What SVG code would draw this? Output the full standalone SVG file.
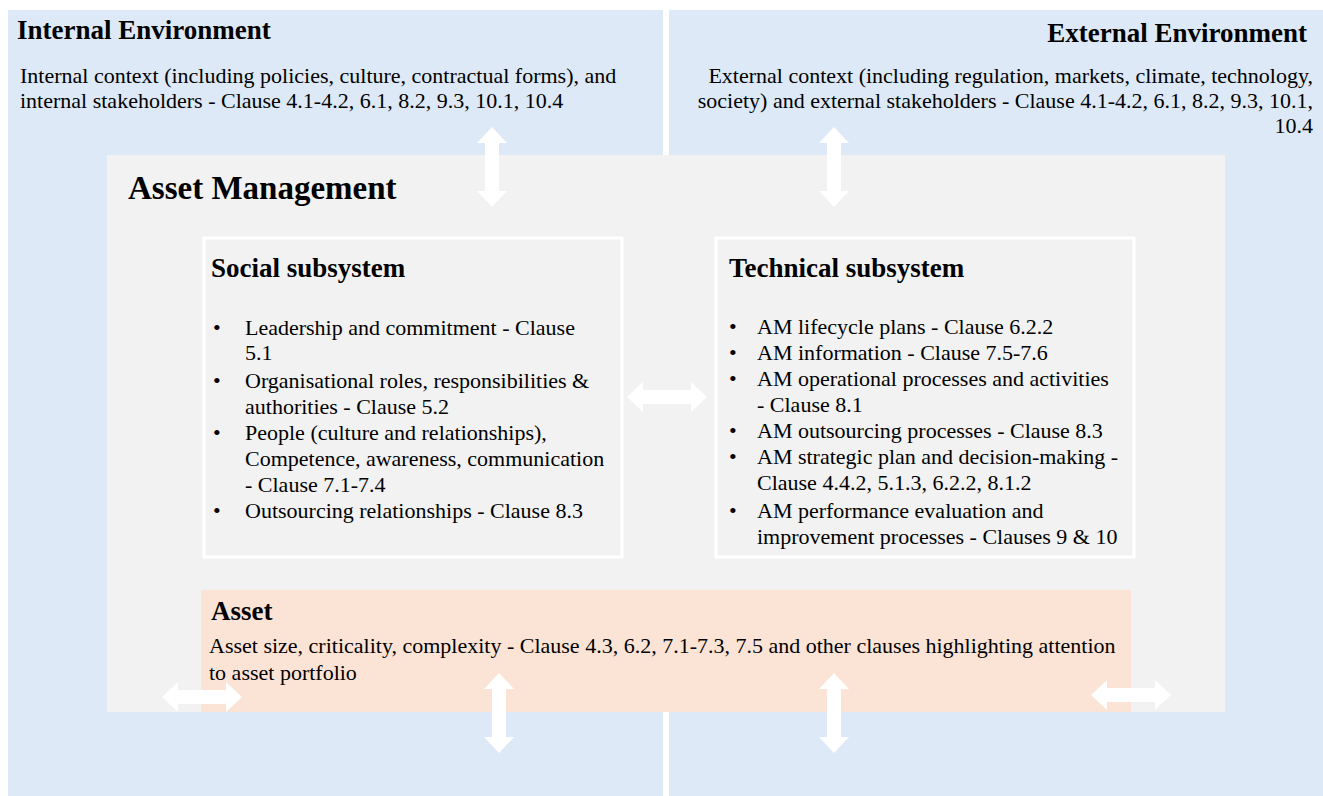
<svg xmlns="http://www.w3.org/2000/svg" width="1323" height="796" viewBox="0 0 1323 796">
<style>
text{font-family:"Liberation Serif","Times New Roman",serif;fill:#000}
.h1{font-size:27px;font-weight:bold}
.h2{font-size:33px;font-weight:bold}
.h3{font-size:27px;font-weight:bold}
.t{font-size:22px}
.env{fill:#dde9f6}
.am{fill:#f2f2f2}
.sub{fill:#f2f2f2;stroke:#ffffff;stroke-width:3}
.asset{fill:#fbe4d6}
.arr{fill:#ffffff}
</style>
<defs>
<path id="dbl" d="M-40,0 L-24,-15 L-24,-7 L24,-7 L24,-15 L40,0 L24,15 L24,7 L-24,7 L-24,15 Z"/>
</defs>
<rect width="1323" height="796" fill="#ffffff"/>
<g id="internal-environment">
<rect class="env" x="8" y="10" width="655" height="786"/>
<text class="h1" x="17" y="39">Internal Environment</text>
<text class="t" x="20" y="83">Internal context (including policies, culture, contractual forms), and</text>
<text class="t" x="20" y="108">internal stakeholders - Clause 4.1-4.2, 6.1, 8.2, 9.3, 10.1, 10.4</text>
</g>
<g id="external-environment">
<rect class="env" x="669" y="10" width="654" height="786"/>
<text class="h1" x="1307" y="42" text-anchor="end">External Environment</text>
<text class="t" x="1313" y="83" text-anchor="end">External context (including regulation, markets, climate, technology,</text>
<text class="t" x="1313" y="108" text-anchor="end">society) and external stakeholders - Clause 4.1-4.2, 6.1, 8.2, 9.3, 10.1,</text>
<text class="t" x="1313" y="133" text-anchor="end">10.4</text>
</g>
<g id="asset-management">
<rect class="am" x="107" y="155" width="1118" height="557"/>
<text class="h2" x="128" y="199">Asset Management</text>
</g>
<g id="social-subsystem">
<rect class="sub" x="204" y="238" width="418" height="319"/>
<text class="h3" x="211" y="277">Social subsystem</text>
<text class="t" x="213" y="335">•</text>
<text class="t" x="245" y="335">Leadership and commitment - Clause</text>
<text class="t" x="245" y="360">5.1</text>
<text class="t" x="213" y="388">•</text>
<text class="t" x="245" y="388">Organisational roles, responsibilities &amp;</text>
<text class="t" x="245" y="414">authorities - Clause 5.2</text>
<text class="t" x="213" y="440">•</text>
<text class="t" x="245" y="440">People (culture and relationships),</text>
<text class="t" x="245" y="466">Competence, awareness, communication</text>
<text class="t" x="245" y="492">- Clause 7.1-7.4</text>
<text class="t" x="213" y="518">•</text>
<text class="t" x="245" y="518">Outsourcing relationships - Clause 8.3</text>
</g>
<g id="technical-subsystem">
<rect class="sub" x="716" y="238" width="418" height="319"/>
<text class="h3" x="729" y="277">Technical subsystem</text>
<text class="t" x="729" y="334">•</text>
<text class="t" x="757" y="334">AM lifecycle plans - Clause 6.2.2</text>
<text class="t" x="729" y="360">•</text>
<text class="t" x="757" y="360">AM information - Clause 7.5-7.6</text>
<text class="t" x="729" y="386">•</text>
<text class="t" x="757" y="386">AM operational processes and activities</text>
<text class="t" x="757" y="412">- Clause 8.1</text>
<text class="t" x="729" y="438">•</text>
<text class="t" x="757" y="438">AM outsourcing processes - Clause 8.3</text>
<text class="t" x="729" y="464">•</text>
<text class="t" x="757" y="464">AM strategic plan and decision-making -</text>
<text class="t" x="757" y="490">Clause 4.4.2, 5.1.3, 6.2.2, 8.1.2</text>
<text class="t" x="729" y="518">•</text>
<text class="t" x="757" y="518">AM performance evaluation and</text>
<text class="t" x="757" y="544">improvement processes - Clauses 9 &amp; 10</text>
</g>
<g id="asset">
<rect class="asset" x="201" y="590" width="930" height="122"/>
<text class="h3" x="211" y="620">Asset</text>
<text class="t" x="209" y="653">Asset size, criticality, complexity - Clause 4.3, 6.2, 7.1-7.3, 7.5 and other clauses highlighting attention</text>
<text class="t" x="209" y="680">to asset portfolio</text>
</g>
<g id="connectors" class="arr">
<use href="#dbl" transform="translate(492,167) rotate(90)"/>
<use href="#dbl" transform="translate(834,167) rotate(90)"/>
<use href="#dbl" transform="translate(667,397)"/>
<use href="#dbl" transform="translate(499,713) rotate(90)"/>
<use href="#dbl" transform="translate(834,713) rotate(90)"/>
<use href="#dbl" transform="translate(202,697)"/>
<use href="#dbl" transform="translate(1131,695)"/>
</g>
</svg>
